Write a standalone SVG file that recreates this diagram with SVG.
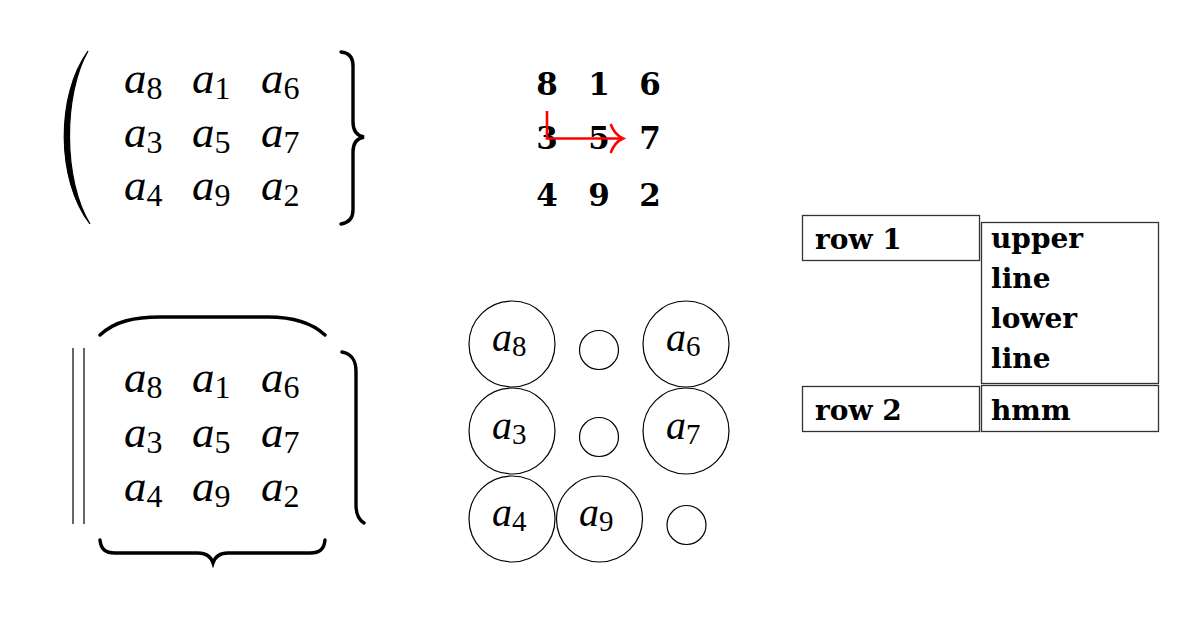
<svg xmlns="http://www.w3.org/2000/svg" width="1200" height="630" viewBox="0 0 1200 630">
<style>
.m{font-family:"Liberation Serif",serif;font-style:italic;font-size:45px;fill:#000}
.s{font-style:normal;font-size:32px}
.c{font-family:"Liberation Serif",serif;font-style:italic;font-size:40px;fill:#000}
.cs{font-style:normal;font-size:29px}
.b{font-family:"DejaVu Serif",serif;font-weight:bold;font-size:31px;fill:#000;text-anchor:middle}
.t{font-family:"DejaVu Serif",serif;font-weight:bold;font-size:28px;fill:#000}
.dl{fill:none;stroke:#000;stroke-width:3.4;stroke-linecap:round}
.circ{fill:none;stroke:#000;stroke-width:1.2}
.box{fill:none;stroke:#333;stroke-width:1.3}
</style>
<rect width="1200" height="630" fill="#fff"/>

<g id="matrix1">
<path d="M88,51 C56,95 56,180 90,224 C63,180 63,95 88,51 Z" fill="#000" stroke="#000" stroke-width="1.2"/>
<path class="dl" d="M341,52 Q353,53 353,66 L353,122 Q353,135 364,137 Q353,139 353,152 L353,210 Q353,222 341,224"/>
<text class="m" x="124" y="93">a<tspan class="s" dy="6">8</tspan></text>
<text class="m" x="192" y="93">a<tspan class="s" dy="6">1</tspan></text>
<text class="m" x="261" y="93">a<tspan class="s" dy="6">6</tspan></text>
<text class="m" x="124" y="147">a<tspan class="s" dy="6">3</tspan></text>
<text class="m" x="192" y="147">a<tspan class="s" dy="6">5</tspan></text>
<text class="m" x="261" y="147">a<tspan class="s" dy="6">7</tspan></text>
<text class="m" x="124" y="200">a<tspan class="s" dy="6">4</tspan></text>
<text class="m" x="192" y="200">a<tspan class="s" dy="6">9</tspan></text>
<text class="m" x="261" y="200">a<tspan class="s" dy="6">2</tspan></text>
</g>

<g id="matrix2">
<line x1="73" y1="348" x2="73" y2="524" stroke="#000" stroke-width="1.2"/>
<line x1="84" y1="348" x2="84" y2="524" stroke="#000" stroke-width="1.2"/>
<path class="dl" d="M100,335 C115,321 135,317 160,317 L268,317 C293,317 311,322 325,335"/>
<path class="dl" d="M342,352 C352,354 356,360 356,372 L356,505 C356,515 359,520 364,523"/>
<path class="dl" d="M100,540 C101,549 105,553 115,553 L198,553 C207,553 211,557 213,563 C215,557 219,553 228,553 L310,553 C320,553 324,549 325,540"/>
<text class="m" x="124" y="392">a<tspan class="s" dy="6">8</tspan></text>
<text class="m" x="192" y="392">a<tspan class="s" dy="6">1</tspan></text>
<text class="m" x="261" y="392">a<tspan class="s" dy="6">6</tspan></text>
<text class="m" x="124" y="447">a<tspan class="s" dy="6">3</tspan></text>
<text class="m" x="192" y="447">a<tspan class="s" dy="6">5</tspan></text>
<text class="m" x="261" y="447">a<tspan class="s" dy="6">7</tspan></text>
<text class="m" x="124" y="501">a<tspan class="s" dy="6">4</tspan></text>
<text class="m" x="192" y="501">a<tspan class="s" dy="6">9</tspan></text>
<text class="m" x="261" y="501">a<tspan class="s" dy="6">2</tspan></text>
</g>

<g id="magic">
<text class="b" x="547" y="95">8</text>
<text class="b" x="599" y="95">1</text>
<text class="b" x="650" y="95">6</text>
<text class="b" x="547" y="149">3</text>
<text class="b" x="599" y="149">5</text>
<text class="b" x="650" y="149">7</text>
<text class="b" x="547" y="206">4</text>
<text class="b" x="599" y="206">9</text>
<text class="b" x="650" y="206">2</text>
</g>

<g id="connectors">
<path d="M547,111 L547,138.5 L622,138.5" fill="none" stroke="#f00" stroke-width="2.6"/>
<path d="M611,125 Q615,135 623,138.5 Q615,142 611,152" fill="none" stroke="#f00" stroke-width="2.6" stroke-linecap="round"/>
</g>

<g id="circles">
<g id="c-a8"><circle class="circ" cx="512" cy="344" r="43"/><text class="c" x="492" y="351">a<tspan class="cs" dy="5">8</tspan></text></g>
<g id="c-e1"><circle class="circ" cx="599" cy="350" r="19.5"/></g>
<g id="c-a6"><circle class="circ" cx="686" cy="344" r="43"/><text class="c" x="666" y="351">a<tspan class="cs" dy="5">6</tspan></text></g>
<g id="c-a3"><circle class="circ" cx="512" cy="431" r="43"/><text class="c" x="492" y="439">a<tspan class="cs" dy="5">3</tspan></text></g>
<g id="c-e2"><circle class="circ" cx="599" cy="437" r="19.5"/></g>
<g id="c-a7"><circle class="circ" cx="686" cy="431" r="43"/><text class="c" x="666" y="439">a<tspan class="cs" dy="5">7</tspan></text></g>
<g id="c-a4"><circle class="circ" cx="512" cy="519" r="43"/><text class="c" x="492" y="526">a<tspan class="cs" dy="5">4</tspan></text></g>
<g id="c-a9"><circle class="circ" cx="599.5" cy="519" r="43"/><text class="c" x="579" y="526">a<tspan class="cs" dy="5">9</tspan></text></g>
<g id="c-e3"><circle class="circ" cx="686.5" cy="525" r="19.5"/></g>
</g>

<g id="table">
<g id="row1"><rect class="box" x="802.5" y="215.5" width="177" height="45"/><text class="t" x="815" y="249">row 1</text></g>
<g id="cell1"><rect class="box" x="981.5" y="222.5" width="177" height="161"/>
<text class="t" x="991" y="248">upper</text>
<text class="t" x="991" y="288">line</text>
<text class="t" x="991" y="328">lower</text>
<text class="t" x="991" y="368">line</text></g>
<g id="row2"><rect class="box" x="802.5" y="386.5" width="177" height="45"/><text class="t" x="815" y="420">row 2</text></g>
<g id="cell2"><rect class="box" x="981.5" y="385.5" width="177" height="46"/><text class="t" x="991" y="420">hmm</text></g>
</g>
</svg>
